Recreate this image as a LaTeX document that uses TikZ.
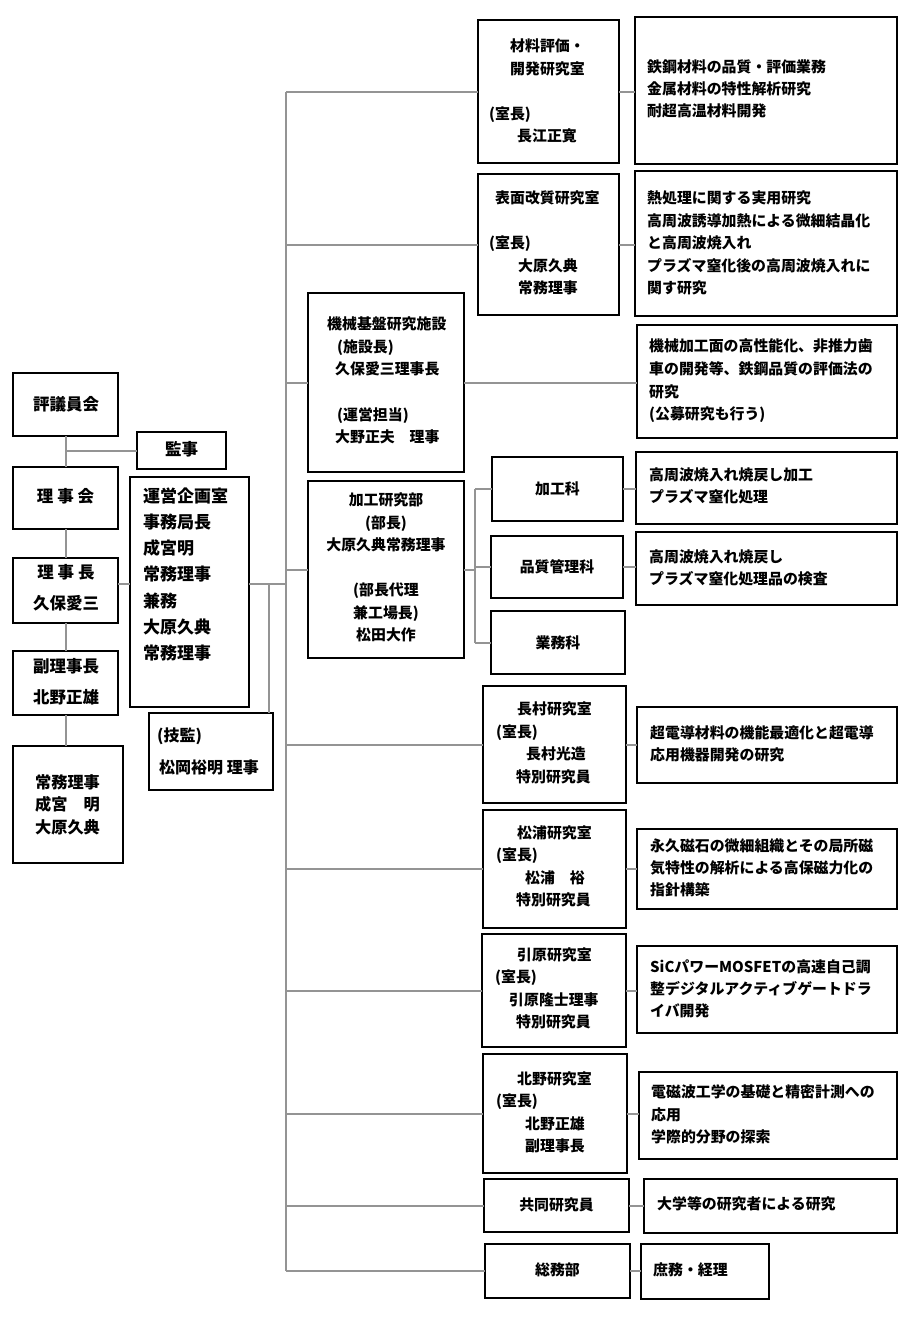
\documentclass[tikz,border=0pt]{standalone}
\usepackage{fontspec}
\setmainfont{Noto Sans CJK JP}
\definecolor{linegray}{HTML}{949494}
\newcommand\fz[2]{\fontsize{#1pt}{#2pt}\selectfont\bfseries}
\newcommand\bx[5]{\node[box,minimum width={(#4-#2)*1pt},minimum height={(#5-#3)*1pt}] (#1) at ({(#2+#4)/2},{(#3+#5)/2}) {};}
\begin{document}
\begin{tikzpicture}[x=1pt,y=-1pt,
  box/.style={draw=black,line width=1.5pt,inner sep=0pt,outer sep=0pt},
  link/.style={draw=linegray,line width=2pt},
  tl/.style={inner sep=0pt,anchor=west,align=left},
  tc/.style={inner sep=0pt,align=center}]
\useasboundingbox (0,0) rectangle (909,1317);

% ---------- left column boxes ----------
\bx{hyogi}{13}{373}{118}{436}
\bx{kanji}{137}{432}{226}{469}
\bx{rijikai}{13}{467}{118}{529}
\bx{rijicho}{13}{558}{118}{623}
\bx{fukuri}{13}{651}{118}{715}
\bx{jomu}{13}{746}{123}{863}
\bx{unei}{130}{477}{249}{707}
\bx{gikan}{149}{713}{273}{790}

% ---------- middle column boxes ----------
\bx{zairyo}{478}{20}{619}{163}
\bx{hyomen}{478}{174}{619}{315}
\bx{kikai}{308}{293}{464}{472}
\bx{kakou}{308}{481}{464}{658}
\bx{kakouka}{492}{457}{623}{521}
\bx{hinshitsu}{491}{536}{623}{598}
\bx{gyoumu}{491}{611}{625}{674}
\bx{osamura}{483}{686}{626}{803}
\bx{matsuura}{483}{810}{626}{928}
\bx{hikihara}{482}{934}{626}{1047}
\bx{kitano}{483}{1054}{627}{1173}
\bx{kyodo}{484}{1179}{629}{1232}
\bx{soumu}{485}{1244}{630}{1298}

% ---------- description boxes ----------
\bx{zairyoD}{635}{17}{897}{164}
\bx{hyomenD}{635}{171}{897}{316}
\bx{kikaiD}{637}{325}{897}{438}
\bx{kakoukaD}{636}{452}{897}{524}
\bx{hinshitsuD}{636}{532}{897}{605}
\bx{osamuraD}{637}{707}{897}{783}
\bx{matsuuraD}{637}{829}{897}{909}
\bx{hikiharaD}{637}{946}{897}{1033}
\bx{kitanoD}{639}{1072}{897}{1159}
\bx{kyodoD}{644}{1179}{897}{1233}
\bx{soumuD}{641}{1244}{769}{1299}

% ---------- junction coordinates ----------
\coordinate (j1) at (286,584);
\coordinate (j2) at (269,584);
\coordinate (kb) at (475,567);

% ---------- connectors: left column ----------
\draw[link] (hyogi.south) -- (hyogi.south |- rijikai.north);
\draw[link] (hyogi.south |- rijikai.south) -- (hyogi.south |- rijicho.north);
\draw[link] (hyogi.south |- rijicho.south) -- (hyogi.south |- fukuri.north);
\draw[link] (hyogi.south |- fukuri.south) -- (hyogi.south |- jomu.north);
\draw[link] (kanji.west) -- (kanji.west -| hyogi.south);
\draw[link] (rijicho.east |- j1) -- (unei.west |- j1);
\draw[link] (unei.east |- j1) -- (j1);
\draw[link] (j2) -- (j2 |- gikan.north);

% ---------- connectors: main trunk ----------
\draw[link] (zairyo.west -| j1) -- (soumu.west -| j1);
\draw[link] (zairyo.west) -- (zairyo.west -| j1);
\draw[link] (hyomen.west) -- (hyomen.west -| j1);
\draw[link] (kikai.west) -- (kikai.west -| j1);
\draw[link] (kakou.west) -- (kakou.west -| j1);
\draw[link] (osamura.west) -- (osamura.west -| j1);
\draw[link] (matsuura.west) -- (matsuura.west -| j1);
\draw[link] (hikihara.west) -- (hikihara.west -| j1);
\draw[link] (kitano.west) -- (kitano.west -| j1);
\draw[link] (kyodo.west) -- (kyodo.west -| j1);
\draw[link] (soumu.west) -- (soumu.west -| j1);

% ---------- connectors: processing division bracket ----------
\draw[link] (kakou.east) -- (kakou.east -| kb);
\draw[link] (kakouka.west -| kb) -- (gyoumu.west -| kb);
\draw[link] (kakouka.west -| kb) -- (kakouka.west);
\draw[link] (hinshitsu.west -| kb) -- (hinshitsu.west);
\draw[link] (gyoumu.west -| kb) -- (gyoumu.west);

% ---------- connectors: to descriptions ----------
\draw[link] (zairyo.east) -- (zairyo.east -| zairyoD.west);
\draw[link] (hyomen.east) -- (hyomen.east -| hyomenD.west);
\draw[link] (kikai.east) -- (kikai.east -| kikaiD.west);
\draw[link] (kakouka.east) -- (kakouka.east -| kakoukaD.west);
\draw[link] (hinshitsu.east) -- (hinshitsu.east -| hinshitsuD.west);
\draw[link] (osamura.east) -- (osamura.east -| osamuraD.west);
\draw[link] (matsuura.east) -- (matsuura.east -| matsuuraD.west);
\draw[link] (hikihara.east) -- (hikihara.east -| hikiharaD.west);
\draw[link] (kitano.east) -- (kitano.east -| kitanoD.west);
\draw[link] (kyodo.east) -- (kyodo.east -| kyodoD.west);
\draw[link] (soumu.east) -- (soumu.east -| soumuD.west);

% ---------- texts: left column ----------
\node[tc,font=\fz{16.5}{31}] (t-hyogi) at (66,404) {評議員会};
\node[tc,font=\fz{16.5}{31}] (t-kanji) at (181.5,449) {監事};
\node[tc,font=\fz{16.5}{31}] (t-rijikai) at (65.5,496) {理 事 会};
\node[tc,font=\fz{16.5}{31}] (t-rijicho) at (66,587.5) {理 事 長\\久保愛三};
\node[tc,font=\fz{16.5}{31}] (t-fukuri) at (66,681.5) {副理事長\\北野正雄};
\node[tc,font=\fz{16.2}{22.5}] (t-jomu) at (67.5,804.5) {常務理事\\成宮　明\\大原久典};
\node[tl,font=\fz{17}{26.2}] (t-unei) at (143,574.5) {運営企画室\\事務局長\\成宮明\\常務理事\\兼務\\大原久典\\常務理事};
\node[tl,font=\fz{16}{32}] (t-gikan) at (157,751) {(技監)\\\hspace*{2pt}松岡裕明 理事};

% ---------- texts: middle column ----------
\node[tl,font=\fz{14.9}{22.5}] (t-zairyo) at (489,91) {\hspace*{21pt}材料評価・\\\hspace*{21pt}開発研究室\\[22.5pt](室長)\\\hspace*{28pt}長江正寛};
\node[tl,font=\fz{14.9}{22.5}] (t-hyomen) at (489,243) {\hspace*{6pt}表面改質研究室\\[22.5pt](室長)\\\hspace*{29pt}大原久典\\\hspace*{29pt}常務理事};
\node[tl,font=\fz{14.9}{22.6}] (t-kikai) at (327,380.5) {機械基盤研究施設\\\hspace*{10pt}(施設長)\\\hspace*{8pt}久保愛三理事長\\[22.6pt]\hspace*{10pt}(運営担当)\\\hspace*{8pt}大野正夫　理事};
\node[tc,font=\fz{14.9}{22.5}] (t-kakou) at (386,567.5) {加工研究部\\(部長)\\大原久典常務理事\\[22.5pt](部長代理\\兼工場長)\\松田大作};
\node[tc,font=\fz{14.9}{22.5}] (t-kakouka) at (557.5,489) {加工科};
\node[tc,font=\fz{14.9}{22.5}] (t-hinshitsu) at (557,567) {品質管理科};
\node[tc,font=\fz{14.9}{22.5}] (t-gyoumu) at (558,642.5) {業務科};
\node[tl,font=\fz{14.9}{22.6}] (t-osamura) at (496,743) {\hspace*{21pt}長村研究室\\(室長)\\\hspace*{30pt}長村光造\\\hspace*{20pt}特別研究員};
\node[tl,font=\fz{14.9}{22.5}] (t-matsuura) at (496,866.5) {\hspace*{21pt}松浦研究室\\(室長)\\\hspace*{29pt}松浦　裕\\\hspace*{20pt}特別研究員};
\node[tl,font=\fz{14.9}{22.5}] (t-hikihara) at (495,988.5) {\hspace*{22pt}引原研究室\\(室長)\\\hspace*{14pt}引原隆士理事\\\hspace*{21pt}特別研究員};
\node[tl,font=\fz{14.9}{22.5}] (t-kitano) at (496,1112.5) {\hspace*{21pt}北野研究室\\(室長)\\\hspace*{29pt}北野正雄\\\hspace*{29pt}副理事長};
\node[tc,font=\fz{14.9}{22.5}] (t-kyodo) at (556.5,1205) {共同研究員};
\node[tc,font=\fz{14.9}{22.5}] (t-soumu) at (557.5,1270) {総務部};

% ---------- texts: descriptions ----------
\node[tl,font=\fz{14.9}{22}] (t-zairyoD) at (647,89) {鉄鋼材料の品質・評価業務\\金属材料の特性解析研究\\耐超高温材料開発};
\node[tl,font=\fz{14.9}{22.5}] (t-hyomenD) at (647,243) {熱処理に関する実用研究\\高周波誘導加熱による微細結晶化\\と高周波焼入れ\\プラズマ窒化後の高周波焼入れに\\関す研究};
\node[tl,font=\fz{14.9}{22.7}] (t-kikaiD) at (649,381) {機械加工面の高性能化、非推力歯\\車の開発等、鉄鋼品質の評価法の\\研究\\(公募研究も行う)};
\node[tl,font=\fz{14.9}{22}] (t-kakoukaD) at (649,486) {高周波焼入れ焼戻し加工\\プラズマ窒化処理};
\node[tl,font=\fz{14.9}{22}] (t-hinshitsuD) at (649,567.5) {高周波焼入れ焼戻し\\プラズマ窒化処理品の検査};
\node[tl,font=\fz{14.9}{22}] (t-osamuraD) at (650,743.5) {超電導材料の機能最適化と超電導\\応用機器開発の研究};
\node[tl,font=\fz{14.9}{22}] (t-matsuuraD) at (650,868) {永久磁石の微細組織とその局所磁\\気特性の解析による高保磁力化の\\指針構築};
\node[tl,font=\fz{14.9}{22}] (t-hikiharaD) at (650,989) {SiCパワーMOSFETの高速自己調\\整デジタルアクティブゲートドラ\\イバ開発};
\node[tl,font=\fz{14.9}{22.5}] (t-kitanoD) at (651,1114.5) {電磁波工学の基礎と精密計測への\\応用\\学際的分野の探索};
\node[tl,font=\fz{14.9}{22.5}] (t-kyodoD) at (657,1204) {大学等の研究者による研究};
\node[tl,font=\fz{14.9}{22.5}] (t-soumuD) at (653,1270) {庶務・経理};
\end{tikzpicture}
\end{document}
